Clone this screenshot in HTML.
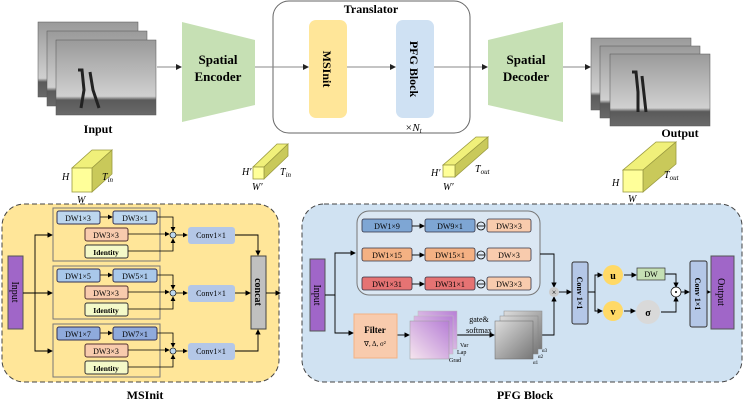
<!DOCTYPE html>
<html><head><meta charset="utf-8"><style>
html,body{margin:0;padding:0;background:#fff;width:744px;height:402px;overflow:hidden}
svg{display:block}
text{font-family:"Liberation Serif",serif}
</style></head><body>
<svg width="744" height="402" viewBox="0 0 744 402" xmlns="http://www.w3.org/2000/svg">
<defs>
<marker id="a" markerWidth="6" markerHeight="6" refX="5" refY="3" orient="auto"><path d="M0,0L6,3L0,6z" fill="#000"/></marker>
<marker id="g" markerWidth="6" markerHeight="6" refX="5" refY="3" orient="auto"><path d="M0,0L6,3L0,6z" fill="#222"/></marker>
<linearGradient id="fr" x1="0" y1="0" x2="0" y2="1"><stop offset="0" stop-color="#9a9a9a"/><stop offset=".75" stop-color="#d0d0d0"/><stop offset=".8" stop-color="#5a5a5a"/><stop offset="1" stop-color="#6a6a6a"/></linearGradient>
<linearGradient id="pu" x1="1" y1="0" x2="0" y2="1"><stop offset="0" stop-color="#b77fd6"/><stop offset="1" stop-color="#f6e6ee"/></linearGradient>
<linearGradient id="gr" x1="0" y1="0" x2="1" y2="1"><stop offset="0" stop-color="#ddd"/><stop offset="1" stop-color="#777"/></linearGradient>
</defs>
<!-- TOP -->
<g stroke="#555" stroke-width=".5">
<rect x="38" y="22" width="100" height="75" fill="url(#fr)"/>
<rect x="47" y="31" width="100" height="75" fill="url(#fr)"/>
<rect x="56" y="40" width="100" height="75" fill="url(#fr)"/>
<rect x="591" y="38" width="100" height="72" fill="url(#fr)"/>
<rect x="600" y="46" width="100" height="72" fill="url(#fr)"/>
<rect x="610" y="54" width="100" height="72" fill="url(#fr)"/>
</g>
<path d="M78,70 l4,0 l2,20 l-3,18 M90,72 l3,18 l6,18" stroke="#222" stroke-width="3" fill="none"/>
<path d="M632,72 l4,0 l2,20 l0,20 M642,76 l2,18 l2,18" stroke="#222" stroke-width="3" fill="none"/>
<polygon points="182,22 255,40 255,105 182,122" fill="#c6e0b4"/>
<polygon points="488,40 563,22 563,122 488,105" fill="#c6e0b4"/>
<text x="218" y="64" font-size="13" font-weight="bold" text-anchor="middle">Spatial</text>
<text x="218" y="81" font-size="13" font-weight="bold" text-anchor="middle">Encoder</text>
<text x="526" y="64" font-size="13" font-weight="bold" text-anchor="middle">Spatial</text>
<text x="526" y="81" font-size="13" font-weight="bold" text-anchor="middle">Decoder</text>
<rect x="273" y="1" width="197" height="132" rx="16" fill="#fff" stroke="#666"/>
<text x="371" y="13" font-size="12" font-weight="bold" text-anchor="middle">Translator</text>
<rect x="309" y="20" width="38" height="98" rx="7" fill="#ffe699"/>
<rect x="396" y="20" width="38" height="98" rx="7" fill="#cfe1f3"/>
<text transform="translate(323,69) rotate(90)" font-size="12" font-weight="bold" text-anchor="middle">MSInit</text>
<text transform="translate(410,69) rotate(90)" font-size="12" font-weight="bold" text-anchor="middle">PFG Block</text>
<text x="405" y="131" font-size="11" font-style="italic">×N<tspan font-size="7" dy="2">t</tspan></text>
<g stroke="#888" stroke-width="1" fill="none" marker-end="url(#g)">
<line x1="157" y1="67" x2="181" y2="67"/><line x1="255" y1="67" x2="308" y2="67"/>
<line x1="347" y1="67" x2="395" y2="67"/><line x1="434" y1="67" x2="487" y2="67"/>
<line x1="563" y1="67" x2="590" y2="67"/></g>
<text x="98" y="133" font-size="12" font-weight="bold" text-anchor="middle">Input</text>
<text x="680" y="137" font-size="12" font-weight="bold" text-anchor="middle">Output</text>
<!-- cubes -->
<g stroke="#9a9a40" stroke-width=".8">
<polygon points="72,168 92,168 112,150 92,150" fill="#f0f07a"/><polygon points="92,168 112,150 112,174 92,192" fill="#c9c95a"/><rect x="72" y="168" width="20" height="24" fill="#ffff99"/>
<polygon points="253,167 264,167 288,144 277,144" fill="#f0f07a"/><polygon points="264,167 288,144 288,156 264,179" fill="#c9c95a"/><rect x="253" y="167" width="11" height="12" fill="#ffff99"/>
<polygon points="443,165 455,165 488,137 476,137" fill="#f0f07a"/><polygon points="455,165 488,137 488,148 455,177" fill="#c9c95a"/><rect x="443" y="165" width="12" height="12" fill="#ffff99"/>
<polygon points="623,170 643,170 676,142 656,142" fill="#f0f07a"/><polygon points="643,170 676,142 676,164 643,192" fill="#c9c95a"/><rect x="623" y="170" width="20" height="22" fill="#ffff99"/>
</g>
<g font-size="10" font-style="italic">
<text x="62" y="180">H</text><text x="77" y="203">W</text><text x="102" y="180">T<tspan font-size="7" dy="2">in</tspan></text>
<text x="242" y="175">H′</text><text x="252" y="190">W′</text><text x="280" y="175">T<tspan font-size="7" dy="2">in</tspan></text>
<text x="431" y="176">H′</text><text x="443" y="190">W′</text><text x="475" y="172">T<tspan font-size="7" dy="2">out</tspan></text>
<text x="612" y="186">H</text><text x="628" y="202">W</text><text x="664" y="178">T<tspan font-size="7" dy="2">out</tspan></text>
</g>
<!-- MSInit panel -->
<rect x="2" y="204" width="277" height="178" rx="22" fill="#ffe699" stroke="#444" stroke-dasharray="5,3"/>
<text x="145" y="399" font-size="12" font-weight="bold" text-anchor="middle">MSInit</text>
<rect x="8" y="256" width="15" height="73" fill="#a066c8" stroke="#555"/>
<text transform="translate(12,292) rotate(90)" font-size="10" text-anchor="middle">Input</text>
<rect x="251" y="256" width="15" height="73" fill="#c0c0c0" stroke="#444"/>
<text transform="translate(255,292) rotate(90)" font-size="10" font-weight="bold" text-anchor="middle">concat</text>
<g stroke="#000" fill="none" marker-end="url(#a)" stroke-width=".9">
<polyline points="23,293 52,293"/><polyline points="35,293 35,235 52,235"/><polyline points="35,293 35,351 52,351"/>
<polyline points="266,293 280,293"/>
</g>
<g id="br">
<rect x="53" y="208" width="107" height="53" fill="none" stroke="#777" stroke-width="1"/>
<rect x="85" y="228" width="43" height="13" rx="2" fill="#f8cbad" stroke="#533"/>
<rect x="85" y="245" width="43" height="13" rx="2" fill="#f4f9c8" stroke="#333"/>
<text x="106" y="238" font-size="8" text-anchor="middle">DW3×3</text>
<text x="106" y="255" font-size="7.5" font-weight="bold" text-anchor="middle">Identity</text>
<circle cx="173" cy="235" r="3" fill="#bdd7ee" stroke="#000" stroke-width=".6"/>
<rect x="188" y="227" width="47" height="17" rx="3" fill="#b4c7e7"/>
<text x="211" y="238" font-size="8" text-anchor="middle">Conv1×1</text>
<g stroke="#000" fill="none" stroke-width=".8" marker-end="url(#a)">
<line x1="100" y1="217" x2="112" y2="217"/>
<polyline points="157,217 173,217 173,231"/>
<line x1="128" y1="234" x2="169" y2="234"/>
<polyline points="128,251 173,251 173,239"/>
<line x1="176" y1="235" x2="187" y2="235"/>
</g>
</g>
<use href="#br" y="58"/><use href="#br" y="116"/>
<g font-size="8" text-anchor="middle">
<rect x="57" y="211" width="43" height="13" rx="2" fill="#bdd7ee" stroke="#335"/><text x="78" y="221">DW1×3</text>
<rect x="113" y="211" width="44" height="13" rx="2" fill="#bdd7ee" stroke="#335"/><text x="135" y="221">DW3×1</text>
<rect x="57" y="269" width="43" height="13" rx="2" fill="#a9c8ea" stroke="#335"/><text x="78" y="279">DW1×5</text>
<rect x="113" y="269" width="44" height="13" rx="2" fill="#a9c8ea" stroke="#335"/><text x="135" y="279">DW5×1</text>
<rect x="57" y="327" width="43" height="13" rx="2" fill="#8faadc" stroke="#335"/><text x="78" y="337">DW1×7</text>
<rect x="113" y="327" width="44" height="13" rx="2" fill="#8faadc" stroke="#335"/><text x="135" y="337">DW7×1</text>
</g>
<g stroke="#000" fill="none" stroke-width=".9" marker-end="url(#a)">
<polyline points="235,235 258,235 258,255"/>
<line x1="235" y1="293" x2="250" y2="293"/>
<polyline points="235,351 258,351 258,330"/>
</g>
<!-- PFG panel -->
<rect x="302" y="204" width="440" height="178" rx="22" fill="#d0e2f2" stroke="#444" stroke-dasharray="5,3"/>
<text x="525" y="399" font-size="12" font-weight="bold" text-anchor="middle">PFG Block</text>
<rect x="310" y="259" width="15" height="72" fill="#a066c8" stroke="#555"/>
<text transform="translate(314,295) rotate(90)" font-size="10" text-anchor="middle">Input</text>
<rect x="357" y="211" width="183" height="84" rx="12" fill="#dbe7f3" stroke="#777"/>
<g font-size="8" text-anchor="middle" stroke-width=".8">
<rect x="362" y="219" width="50" height="13" rx="2" fill="#7ea6d4" stroke="#334"/><text x="387" y="229">DW1×9</text>
<rect x="425" y="219" width="50" height="13" rx="2" fill="#7ea6d4" stroke="#334"/><text x="450" y="229">DW9×1</text>
<rect x="487" y="219" width="44" height="13" rx="2" fill="#f8cbad" stroke="#334"/><text x="509" y="229">DW3×3</text>
<rect x="362" y="248" width="50" height="13" rx="2" fill="#f4b183" stroke="#334"/><text x="387" y="258">DW1×15</text>
<rect x="425" y="248" width="50" height="13" rx="2" fill="#f4b183" stroke="#334"/><text x="450" y="258">DW15×1</text>
<rect x="487" y="248" width="44" height="13" rx="2" fill="#f8cbad" stroke="#334"/><text x="509" y="258">DW×3</text>
<rect x="362" y="277" width="50" height="13" rx="2" fill="#e57373" stroke="#334"/><text x="387" y="287">DW1×31</text>
<rect x="425" y="277" width="50" height="13" rx="2" fill="#e57373" stroke="#334"/><text x="450" y="287">DW31×1</text>
<rect x="487" y="277" width="44" height="13" rx="2" fill="#f8cbad" stroke="#334"/><text x="509" y="287">DW3×3</text>
</g>
<g stroke="#000" fill="none" stroke-width=".8">
<circle cx="481" cy="226" r="4"/><line x1="477" y1="226" x2="485" y2="226"/>
<circle cx="481" cy="255" r="4"/><line x1="477" y1="255" x2="485" y2="255"/>
<circle cx="481" cy="284" r="4"/><line x1="477" y1="284" x2="485" y2="284"/>
</g>
<g stroke="#000" fill="none" stroke-width=".9" marker-end="url(#a)">
<line x1="412" y1="226" x2="424" y2="226"/><line x1="412" y1="255" x2="424" y2="255"/><line x1="412" y1="284" x2="424" y2="284"/>
<polyline points="325,295 335,295 335,253 355,253"/><polyline points="335,295 335,333 353,333"/>
<line x1="397" y1="335" x2="409" y2="335"/>
<line x1="455" y1="335" x2="494" y2="335"/>
<polyline points="540,254 554,254 554,287"/><polyline points="542,335 554,335 554,297"/>
<line x1="559" y1="292" x2="571" y2="292"/>
<polyline points="588,292 595,292 595,275 602,275"/><polyline points="595,292 595,311 602,311"/>
<line x1="624" y1="275" x2="636" y2="275"/><line x1="624" y1="311" x2="635" y2="311"/>
<polyline points="665,274 676,274 676,287"/><polyline points="661,312 676,312 676,297"/>
<line x1="681" y1="292" x2="689" y2="292"/><line x1="707" y1="292" x2="710" y2="292"/>
</g>
<rect x="354" y="314" width="43" height="44" fill="#f8cbad" stroke="#f4b183"/>
<text x="375" y="333" font-size="9" font-weight="bold" text-anchor="middle">Filter</text>
<text x="375" y="346" font-size="7" text-anchor="middle">∇, Δ, σ²</text>
<rect x="418" y="311" width="39" height="38" fill="url(#pu)" stroke="#bbb" stroke-width=".5"/>
<rect x="414" y="316" width="39" height="38" fill="url(#pu)" stroke="#bbb" stroke-width=".5"/>
<rect x="410" y="321" width="39" height="38" fill="url(#pu)" stroke="#999" stroke-width=".5"/>
<text x="460" y="347" font-size="6">Var</text><text x="457" y="354" font-size="6">Lap</text><text x="449" y="362" font-size="6">Grad</text>
<text x="479" y="322" font-size="8" text-anchor="middle">gate&amp;</text>
<text x="479" y="333" font-size="8" text-anchor="middle">softmax</text>
<rect x="504" y="311" width="38" height="38" fill="url(#gr)" stroke="#888" stroke-width=".5"/>
<rect x="500" y="316" width="38" height="38" fill="url(#gr)" stroke="#888" stroke-width=".5"/>
<rect x="495" y="321" width="38" height="38" fill="url(#gr)" stroke="#666" stroke-width=".5"/>
<text x="542" y="352" font-size="5">α3</text><text x="538" y="358" font-size="5">α2</text><text x="533" y="364" font-size="5">α1</text>
<circle cx="554" cy="292" r="5" fill="#ccc"/><text x="554" y="295" font-size="8" text-anchor="middle">×</text>
<rect x="572" y="262" width="16" height="62" rx="2" fill="#b4c7e7" stroke="#333"/>
<text transform="translate(577,293) rotate(90)" font-size="8" font-weight="bold" text-anchor="middle">Conv 1×1</text>
<circle cx="613" cy="275" r="10" fill="#ffd966"/><text x="613" y="279" font-size="10" font-weight="bold" text-anchor="middle">u</text>
<circle cx="613" cy="311" r="10" fill="#ffd966"/><text x="613" y="315" font-size="10" font-weight="bold" text-anchor="middle">v</text>
<rect x="637" y="268" width="28" height="12" fill="#c5e0b4" stroke="#333" stroke-width=".7"/>
<text x="651" y="277" font-size="8" font-family="Liberation Sans" text-anchor="middle">DW</text>
<circle cx="648" cy="312" r="12" fill="#d9d9d9"/><text x="648" y="316" font-size="10" font-weight="bold" text-anchor="middle">σ</text>
<circle cx="676" cy="292" r="5" fill="#fff" stroke="#000" stroke-width=".7"/><circle cx="676" cy="292" r="1" fill="#000"/>
<rect x="690" y="261" width="17" height="66" rx="2" fill="#b4c7e7" stroke="#333"/>
<text transform="translate(695,294) rotate(90)" font-size="8" font-weight="bold" text-anchor="middle">Conv 1×1</text>
<rect x="711" y="256" width="23" height="73" fill="#a066c8" stroke="#555"/>
<text transform="translate(718,292) rotate(90)" font-size="10" text-anchor="middle">Output</text>
</svg>
</body></html>
